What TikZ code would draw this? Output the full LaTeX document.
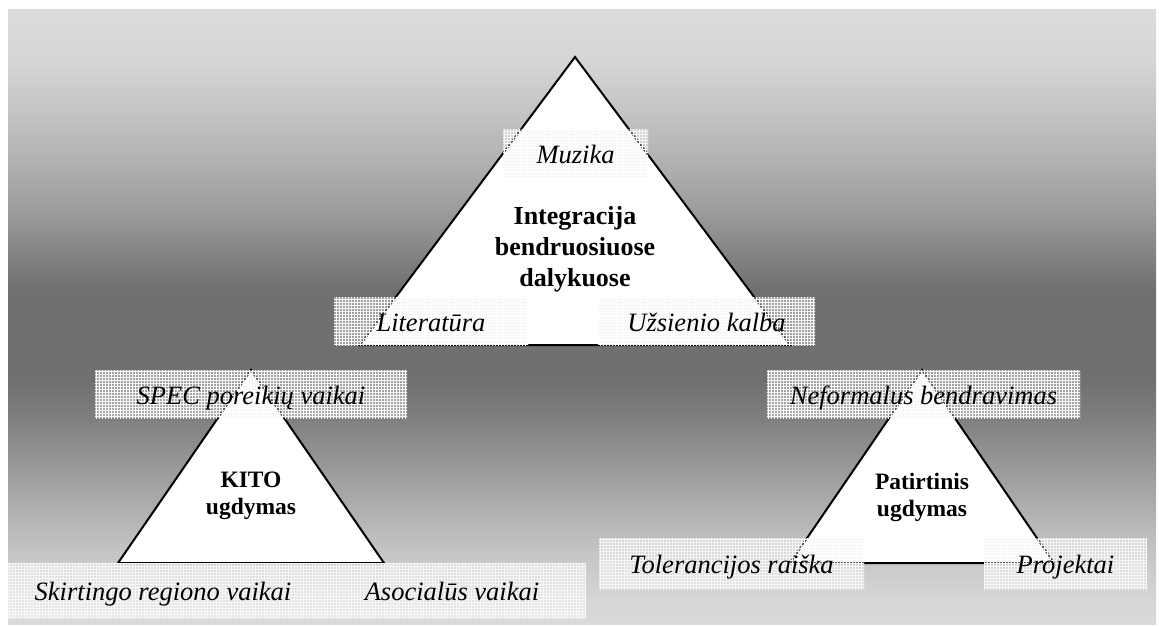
\documentclass[tikz,border=0pt]{standalone}
\usepackage{fontspec}
\setmainfont{Liberation Serif}
\usetikzlibrary{patterns}

% vertical background ramp: light at top and bottom, dark band in the middle
\pgfdeclareverticalshading{bgshade}{100bp}{%
  rgb(0bp)=(0.855,0.855,0.855);
  rgb(25bp)=(0.855,0.855,0.855);
  rgb(26.95bp)=(0.839,0.839,0.839);
  rgb(31.03bp)=(0.769,0.769,0.769);
  rgb(36.73bp)=(0.627,0.627,0.627);
  rgb(41.61bp)=(0.502,0.502,0.502);
  rgb(44.87bp)=(0.439,0.439,0.439);
  rgb(52.20bp)=(0.439,0.439,0.439);
  rgb(54.64bp)=(0.502,0.502,0.502);
  rgb(58.71bp)=(0.612,0.612,0.612);
  rgb(63.60bp)=(0.714,0.714,0.714);
  rgb(67.67bp)=(0.784,0.784,0.784);
  rgb(70.93bp)=(0.839,0.839,0.839);
  rgb(75bp)=(0.863,0.863,0.863);
  rgb(100bp)=(0.863,0.863,0.863)}

% fine grid used as the texture of the label boxes
\pgfdeclarepatternformonly{boxgrid}{\pgfqpoint{-1pt}{-1pt}}{\pgfqpoint{4pt}{4pt}}{\pgfqpoint{3pt}{3pt}}{%
  \pgfsetlinewidth{0.9pt}%
  \pgfpathmoveto{\pgfqpoint{0pt}{0pt}}\pgfpathlineto{\pgfqpoint{3.1pt}{0pt}}%
  \pgfpathmoveto{\pgfqpoint{0pt}{0pt}}\pgfpathlineto{\pgfqpoint{0pt}{3.1pt}}%
  \pgfusepath{stroke}}

\begin{document}
\begin{tikzpicture}[x=1pt,y=-1pt,
  tri/.style={fill=white,draw=black,line width=2pt,line join=miter},
  labelbox/.style={inner sep=0pt,
    preaction={fill=white,fill opacity=0.35},
    pattern=boxgrid,pattern color=white!94!gray,
    font=\itshape\fontsize{26.5}{30}\selectfont,
    text height=20pt,text depth=0pt},
  bigtitle/.style={inner sep=0pt,align=center,
    font=\bfseries\fontsize{26}{31}\selectfont},
  smalltitle/.style={inner sep=0pt,align=center,
    font=\bfseries\fontsize{23.5}{27}\selectfont}]

\useasboundingbox (0,0) rectangle (1159,626);
\shade[shading=bgshade] (8,10) rectangle (1156,624);

% triangle corners
\coordinate (tA) at (575,57);
\coordinate (tB) at (360,345);
\coordinate (tC) at (790,345);
\coordinate (kA) at (251,370);
\coordinate (kB) at (118,563);
\coordinate (kC) at (384,563);
\coordinate (pA) at (922,370);
\coordinate (pB) at (790,563);
\coordinate (pC) at (1054,563);

\draw[tri] (tA) -- (tB) -- (tC) -- cycle;
\draw[tri] (kA) -- (kB) -- (kC) -- cycle;
\draw[tri] (pA) -- (pB) -- (pC) -- cycle;

% labels around the large triangle
\node[labelbox,minimum width=145pt,minimum height=48pt] (muzika) at (575.5,153) {Muzika};
\node[labelbox,minimum width=194pt,minimum height=48pt] (literatura) at (431,321) {Literatūra};
\node[labelbox,minimum width=217pt,minimum height=48pt] (uzsienio) at (706.5,321) {Užsienio kalba};

% labels around the left triangle
\node[labelbox,minimum width=312pt,minimum height=48pt] (spec) at (251,394) {SPEC poreikių vaikai};
\node[labelbox,minimum width=310pt,minimum height=55pt] (skirtingo) at (163,590.5) {Skirtingo regiono vaikai};
\node[labelbox,minimum width=268pt,minimum height=55pt] (asocialus) at (452,590.5) {Asocialūs vaikai};

% labels around the right triangle
\node[labelbox,minimum width=313pt,minimum height=48pt] (neformalus) at (923.5,394) {Neformalus bendravimas};
\node[labelbox,minimum width=265pt,minimum height=51pt] (tolerancijos) at (731.5,563.5) {Tolerancijos raiška};
\node[labelbox,minimum width=163pt,minimum height=51pt] (projektai) at (1065.5,563.5) {Projektai};

% titles inside the triangles
\node[bigtitle] (integracija) at (575,249) {Integracija\\bendruosiuose\\dalykuose};
\node[smalltitle] (kito) at (251,496) {KITO\\ugdymas};
\node[smalltitle] (patirtinis) at (922,497) {Patirtinis\\ugdymas};

\end{tikzpicture}
\end{document}
